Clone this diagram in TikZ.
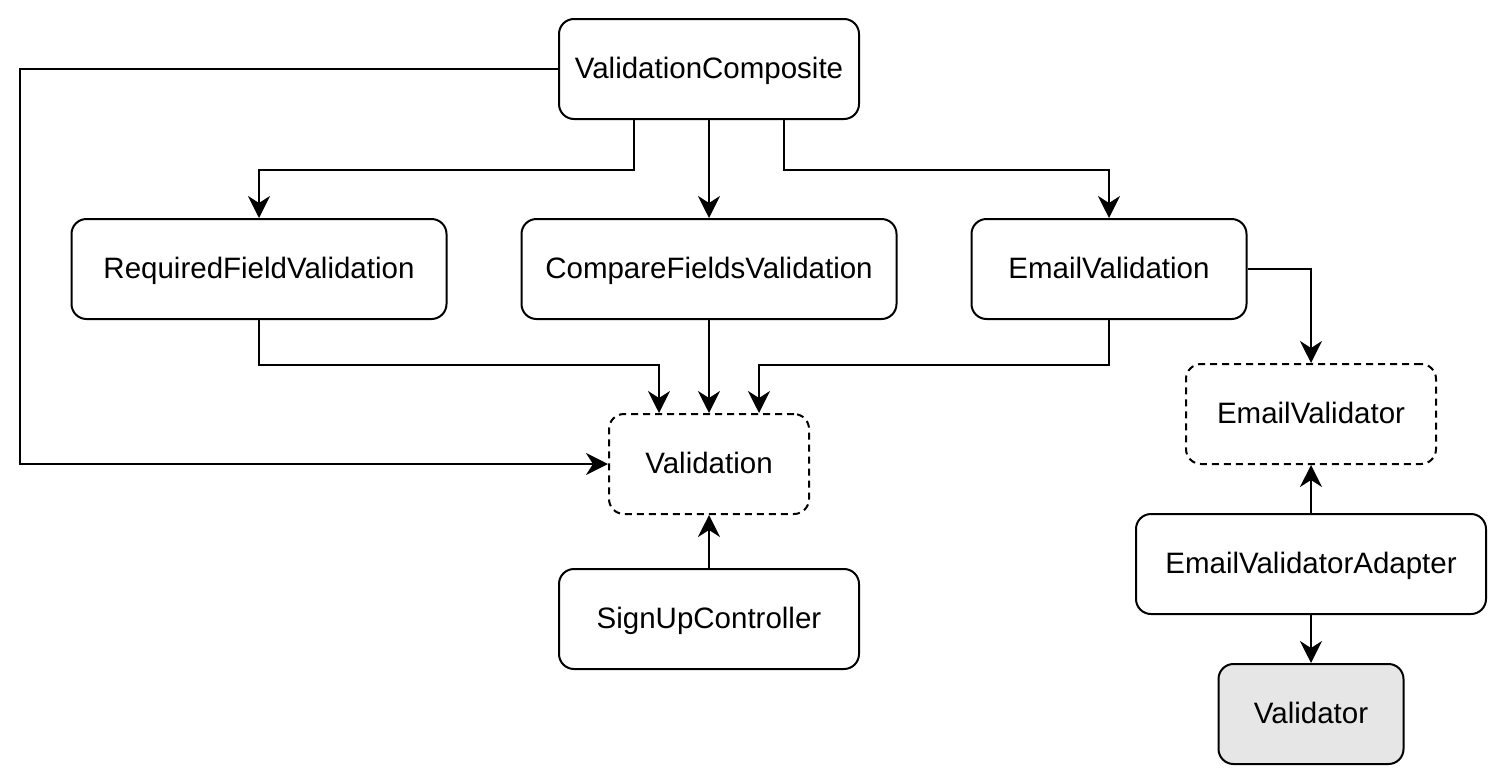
\documentclass[tikz,border=0pt]{standalone}
\usepackage{fontspec}
\setmainfont{Liberation Sans}
\usetikzlibrary{arrows.meta}
\definecolor{boxgray}{HTML}{E6E6E6}
\tikzset{
  box/.style={draw=black, line width=2pt, rounded corners=15pt, fill=white,
    inner sep=0pt, align=center, text height=19pt, text depth=0pt,
    font=\fontsize{29.5}{35}\selectfont},
  dbox/.style={box, dash pattern=on 7pt off 5pt},
  arr/.style={draw=black, line width=2pt, -{Stealth[length=22pt,width=22pt,inset=7pt]}},
}
\begin{document}
\begin{tikzpicture}[x=1pt,y=-1pt]
\useasboundingbox (0,0) rectangle (1504,782);
\node[box, minimum width=300pt, minimum height=100pt] (vc) at (709,69) {ValidationComposite};
\node[box, minimum width=375pt, minimum height=100pt] (rfv) at (259,269) {RequiredFieldValidation};
\node[box, minimum width=375pt, minimum height=100pt] (cfv) at (709,269) {CompareFieldsValidation};
\node[box, minimum width=275pt, minimum height=100pt] (ev) at (1109,269) {EmailValidation};
\node[dbox, minimum width=200pt, minimum height=100pt] (val) at (709,464) {Validation};
\node[box, minimum width=300pt, minimum height=100pt] (suc) at (709,619) {SignUpController};
\node[dbox, minimum width=250pt, minimum height=100pt] (evr) at (1311,414) {EmailValidator};
\node[box, minimum width=350pt, minimum height=100pt] (eva) at (1311,564) {EmailValidatorAdapter};
\node[box, fill=boxgray, minimum width=185pt, minimum height=100pt] (vtor) at (1311,714) {Validator};

\draw[arr] (vc.west) -- ++(-538,0) |- (val.west);
\draw[arr] ([xshift=-75pt]vc.south) -- ++(0,50) -| (rfv.north);
\draw[arr] (vc.south) -- (cfv.north);
\draw[arr] ([xshift=75pt]vc.south) -- ++(0,50) -| (ev.north);
\draw[arr] (rfv.south) -- ++(0,45) -| ([xshift=-50pt]val.north);
\draw[arr] (cfv.south) -- (val.north);
\draw[arr] (ev.south) -- ++(0,45) -| ([xshift=50pt]val.north);
\draw[arr] (ev.east) -| (evr.north);
\draw[arr] (eva.north) -- (evr.south);
\draw[arr] (eva.south) -- (vtor.north);
\draw[arr] (suc.north) -- (val.south);
\end{tikzpicture}
\end{document}
